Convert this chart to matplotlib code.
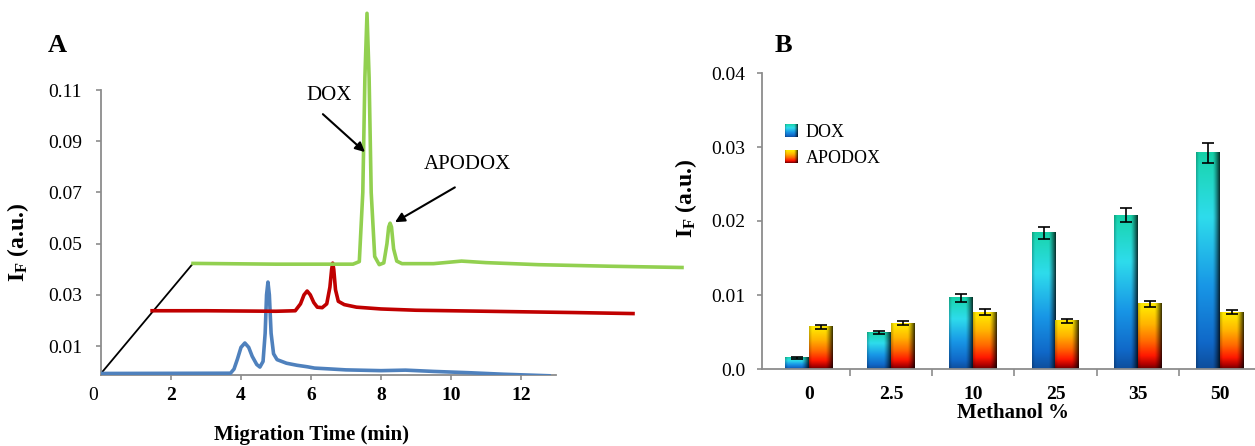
import numpy as np
import matplotlib
matplotlib.use("Agg")
import matplotlib.pyplot as plt
from matplotlib.patches import Patch
from matplotlib.transforms import ScaledTranslation, Bbox, TransformedBbox
from matplotlib.colors import to_rgb
from matplotlib.legend_handler import HandlerBase
from matplotlib.image import BboxImage

plt.rcParams['font.family'] = ['Liberation Serif', 'DejaVu Serif']
plt.rcParams['mathtext.default'] = 'regular'

# ---------------- Panel A data (electropherograms, offset traces as drawn) ----------------
blue_t = [0.0, 3.7, 3.8, 3.9, 4.0, 4.11, 4.22, 4.32, 4.45, 4.54, 4.63, 4.69, 4.73, 4.77,
          4.81, 4.86, 4.93, 5.03, 5.3, 5.6, 5.9, 6.1, 6.5, 7.0, 8.0, 8.7, 9.5, 10.5, 11.5, 12.8]
blue_v = [-0.0007, -0.0006, 0.001, 0.005, 0.0095, 0.0112, 0.0095, 0.006, 0.0028, 0.0018,
          0.004, 0.015, 0.030, 0.035, 0.030, 0.015, 0.007, 0.0047, 0.0033, 0.0025, 0.0019,
          0.0014, 0.0011, 0.0007, 0.0004, 0.0006, 0.0001, -0.0004, -0.0010, -0.0016]

red_t = [1.46, 3.0, 5.0, 5.55, 5.7, 5.8, 5.89, 5.98, 6.08, 6.18, 6.32, 6.45, 6.54, 6.59,
         6.62, 6.65, 6.7, 6.78, 6.95, 7.3, 8.0, 9.0, 10.0, 11.0, 12.0, 13.5, 15.2]
red_v = [0.0238, 0.0238, 0.0236, 0.0238, 0.0265, 0.0300, 0.0315, 0.0300, 0.0270, 0.0252,
         0.0250, 0.0265, 0.033, 0.040, 0.0424, 0.040, 0.032, 0.0275, 0.0262, 0.0252, 0.0245,
         0.0240, 0.0238, 0.0236, 0.0234, 0.0231, 0.0227]

green_t = [2.63, 5.0, 7.2, 7.38, 7.48, 7.54, 7.6, 7.66, 7.72, 7.82, 7.95, 8.08, 8.17, 8.22,
           8.26, 8.30, 8.36, 8.45, 8.6, 9.5, 10.3, 11.0, 12.5, 14.5, 16.6]
green_v = [0.0423, 0.0420, 0.0420, 0.0430, 0.070, 0.115, 0.140, 0.115, 0.070, 0.045, 0.0418,
           0.0425, 0.050, 0.0565, 0.058, 0.0565, 0.048, 0.0432, 0.0422, 0.0422, 0.0432,
           0.0426, 0.0418, 0.0412, 0.0407]

a_yticks = [0.01, 0.03, 0.05, 0.07, 0.09, 0.11]
a_ytick_labels = ['0.01', '0.03', '0.05', '0.07', '0.09', '0.11']
a_xticks = [0, 2, 4, 6, 8, 10, 12]

# ---------------- Panel B data (bar chart) ----------------
methanol = ['0', '2.5', '10', '25', '35', '50']
dox = [0.0015, 0.0049, 0.0096, 0.0184, 0.0208, 0.0292]
dox_err = [0.0001, 0.0002, 0.0005, 0.0008, 0.0010, 0.0014]
apodox = [0.0057, 0.0062, 0.0077, 0.0065, 0.0088, 0.0077]
apodox_err = [0.0003, 0.0003, 0.0004, 0.0003, 0.00045, 0.0003]
b_yticks = [0.0, 0.01, 0.02, 0.03, 0.04]
b_ytick_labels = ['0.0', '0.01', '0.02', '0.03', '0.04']

# ---------------- figure ----------------
W, H = 1255, 446
fig = plt.figure(figsize=(W / 100, H / 100), dpi=100)
fig.patch.set_facecolor('white')


def fx(px):
    return px / W


def fy(py):
    return 1 - py / H


AXIS_GRAY = '#8c8c8c'

# ===== Panel A =====
axA = fig.add_axes([fx(101), fy(375), 595 / W, 375 / H])
axA.set_xlim(0, 17)
axA.set_ylim(-0.0013, 0.1452)
axA.patch.set_alpha(0)
for s in ['top', 'right']:
    axA.spines[s].set_visible(False)
for s in ['left', 'bottom']:
    axA.spines[s].set_color(AXIS_GRAY)
    axA.spines[s].set_linewidth(1.3)
axA.spines['left'].set_bounds(-0.0013, 0.11)
axA.spines['bottom'].set_bounds(0, 13.0)

axA.set_yticks(a_yticks)
axA.set_yticklabels(a_ytick_labels)
axA.tick_params(axis='y', direction='out', length=3.6, width=1.2, color=AXIS_GRAY,
                pad=10, labelsize=14)
axA.set_xticks(a_xticks)
axA.set_xticklabels([str(v) for v in a_xticks])
axA.tick_params(axis='x', direction='out', length=3.6, width=1.2, color=AXIS_GRAY,
                pad=5, labelsize=14)
for i, lab in enumerate(axA.get_xticklabels()):
    if i == 0:
        lab.set_transform(lab.get_transform() + ScaledTranslation(-8 / 100, 0, fig.dpi_scale_trans))
    else:
        lab.set_fontweight('bold')
axA.xaxis.get_major_ticks()[0].tick1line.set_visible(False)

# offset guide line from first trace start to last trace start
axA.plot([blue_t[0], green_t[0]], [blue_v[0], green_v[0]], color='black', lw=1.3, zorder=2)
axA.plot(blue_t, blue_v, color='#4f81bd', lw=2.6, zorder=3, solid_joinstyle='round')
axA.plot(red_t, red_v, color='#c00000', lw=2.6, zorder=3, solid_joinstyle='round')
axA.plot(green_t, green_v, color='#92d050', lw=2.6, zorder=3, solid_joinstyle='round')

axA.text(6.51, 0.108, 'DOX', ha='center', va='center', fontsize=15)
axA.text(10.46, 0.0811, 'APODOX', ha='center', va='center', fontsize=15)
arrow_kw = dict(arrowstyle='-|>', lw=1.5, color='black', mutation_scale=14,
                shrinkA=0, shrinkB=0)
axA.annotate('', xy=(7.54, 0.0858), xytext=(6.34, 0.1006), arrowprops=arrow_kw)
axA.annotate('', xy=(8.4, 0.0584), xytext=(10.11, 0.0720), arrowprops=arrow_kw)

fig.text(fx(57), fy(45), 'A', fontsize=19, fontweight='bold', ha='center', va='center')
fig.text(fx(18), fy(242), r'I$_\mathregular{F}$ (a.u.)', fontsize=17, fontweight='bold',
         rotation=90, ha='center', va='center')
fig.text(fx(312), fy(435), 'Migration Time (min)', fontsize=15, fontweight='bold',
         ha='center', va='center')

# ===== Panel B =====
axB = fig.add_axes([fx(762), fy(369), 499 / W, (369 - 73) / H])
axB.patch.set_alpha(0)
for s in ['top', 'right']:
    axB.spines[s].set_visible(False)
for s in ['left', 'bottom']:
    axB.spines[s].set_color(AXIS_GRAY)
    axB.spines[s].set_linewidth(1.3)

x = np.arange(len(methanol))
bw = 0.29


def grad_img(stops, n=160, m=48):
    pos = [p for p, _ in stops]
    cols = np.array([to_rgb(c) for _, c in stops])
    yy = np.linspace(0, 1, n)
    col = np.stack([np.interp(yy, pos, cols[:, k]) for k in range(3)], axis=1)
    xx = np.linspace(0, 1, m)
    shade = 1 - 0.78 * np.clip((xx - 0.70) / 0.30, 0, 1) ** 1.3
    shade *= 1 - 0.22 * np.clip((0.12 - xx) / 0.12, 0, 1)
    img = col[:, None, :] * shade[None, :, None]
    return np.clip(img, 0, 1)


dox_stops = [(0.0, '#14cfa6'), (0.06, '#1dd6b8'), (0.30, '#2edcec'), (0.62, '#1896e6'),
             (0.88, '#1068c8'), (1.0, '#0e4e9c')]
apo_stops = [(0.0, '#ffe600'), (0.08, '#ffe200'), (0.32, '#ffb400'), (0.58, '#ff6a00'),
             (0.80, '#ff1800'), (0.93, '#b00000'), (1.0, '#6a0000')]
img_dox = grad_img(dox_stops)
img_apo = grad_img(apo_stops)

bars_d = axB.bar(x - bw / 2, dox, bw, facecolor='none', edgecolor='none', zorder=2)
bars_a = axB.bar(x + bw / 2, apodox, bw, facecolor='none', edgecolor='none', zorder=2)
for bars, img in ((bars_d, img_dox), (bars_a, img_apo)):
    for p in bars:
        x0, w, h = p.get_x(), p.get_width(), p.get_height()
        axB.imshow(img, extent=(x0, x0 + w, 0, h), origin='upper', aspect='auto',
                   interpolation='bilinear', zorder=2)

axB.errorbar(x - bw / 2, dox, yerr=dox_err, fmt='none', ecolor='black', elinewidth=1.2,
             capsize=4, capthick=1.2, zorder=4)
axB.errorbar(x + bw / 2, apodox, yerr=apodox_err, fmt='none', ecolor='black',
             elinewidth=1.2, capsize=4, capthick=1.2, zorder=4)
axB.set_xlim(-0.57, 5.5)
axB.set_ylim(0, 0.04)

axB.set_yticks(b_yticks)
axB.set_yticklabels(b_ytick_labels)
axB.tick_params(axis='y', direction='out', length=3.6, width=1.2, color=AXIS_GRAY,
                pad=8.5, labelsize=14)
axB.set_xticks(x)
axB.set_xticklabels(methanol, fontweight='bold')
axB.tick_params(axis='x', which='major', length=0, pad=12, labelsize=14)
axB.set_xticks(x[:-1] + 0.5, minor=True)
axB.tick_params(axis='x', which='minor', direction='out', length=5, width=1.2,
                color=AXIS_GRAY)


class GradHandler(HandlerBase):
    def __init__(self, img):
        super().__init__()
        self.img = img

    def create_artists(self, legend, orig_handle, xdescent, ydescent, width, height,
                       fontsize, trans):
        bb = TransformedBbox(Bbox.from_bounds(-xdescent, -ydescent, width, height), trans)
        im = BboxImage(bb, interpolation='bilinear', origin='upper')
        im.set_data(self.img)
        return [im]


h_dox = Patch(facecolor='#1c9fe0', edgecolor='none')
h_apo = Patch(facecolor='#f27400', edgecolor='none')
axB.legend([h_dox, h_apo], ['DOX', 'APODOX'], loc='upper left',
           bbox_to_anchor=(0.046, 0.828), frameon=False, fontsize=13,
           handlelength=0.7, handleheight=0.7, handletextpad=0.45, labelspacing=0.5,
           borderpad=0, borderaxespad=0,
           handler_map={h_dox: GradHandler(img_dox), h_apo: GradHandler(img_apo)})

fig.text(fx(783), fy(45), 'B', fontsize=19, fontweight='bold', ha='center', va='center')
fig.text(fx(686), fy(198), r'I$_\mathregular{F}$ (a.u.)', fontsize=17, fontweight='bold',
         rotation=90, ha='center', va='center')
fig.text(fx(1013), fy(413), 'Methanol %', fontsize=15, fontweight='bold',
         ha='center', va='center')

fig.savefig('out.png', dpi=100, facecolor='white')
